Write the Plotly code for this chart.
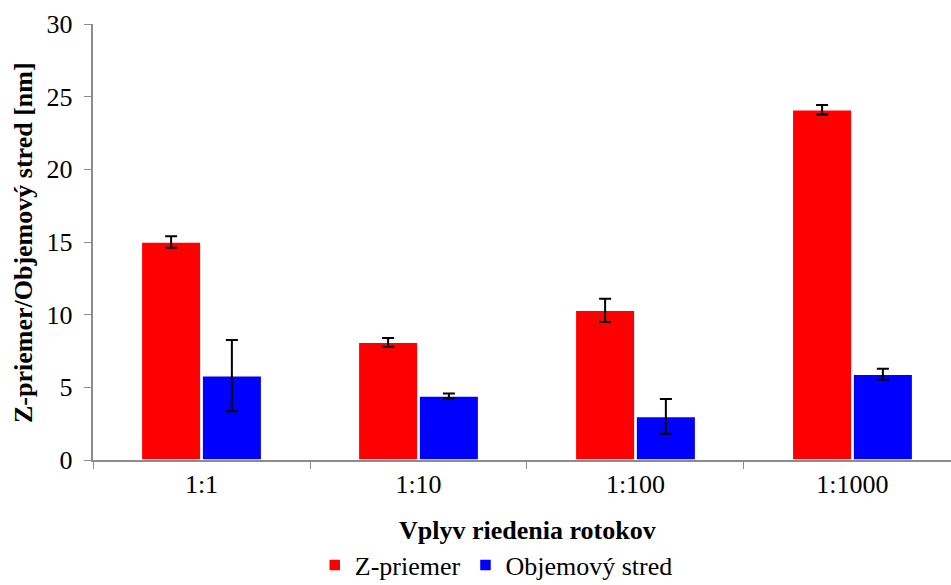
import plotly.graph_objects as go

categories = ["1:1", "1:10", "1:100", "1:1000"]
z_priemer = [15.0, 8.1, 10.3, 24.1]
z_err = [0.4, 0.3, 0.8, 0.32]
objemovy = [5.8, 4.4, 3.0, 5.9]
obj_err = [2.45, 0.17, 1.2, 0.38]

x_title = "Vplyv riedenia rotokov"
y_title = "Z-priemer/Objemový stred [nm]"

font_family = "Liberation Serif, Times New Roman, serif"
FS = 26

fig = go.Figure()
fig.add_trace(go.Bar(
    x=categories, y=z_priemer, name="Z-priemer",
    marker=dict(color="#ff0000", line=dict(color="white", width=1.5)),
    error_y=dict(type="data", array=z_err, color="black", thickness=2, width=6),
))
fig.add_trace(go.Bar(
    x=categories, y=objemovy, name="Objemový stred",
    marker=dict(color="#0000ff", line=dict(color="white", width=1.5)),
    error_y=dict(type="data", array=obj_err, color="black", thickness=2, width=6),
))

fig.update_layout(
    width=951, height=585,
    margin=dict(l=93, r=0, t=24, b=125, autoexpand=False),
    paper_bgcolor="white", plot_bgcolor="white",
    font=dict(family=font_family, size=FS, color="black"),
    barmode="group", bargap=0.44, bargroupgap=0.02,
    showlegend=True,
    legend=dict(orientation="h", x=0.47, xanchor="center", y=-0.241, yanchor="middle",
                font=dict(size=FS, family=font_family), itemwidth=30,
                traceorder="normal", borderwidth=0),
    annotations=[
        dict(text="<b>" + x_title + "</b>", xref="paper", yref="paper",
             x=0.506, y=-0.1606, xanchor="center", yanchor="middle",
             showarrow=False, font=dict(size=FS)),
        dict(text="<b>" + y_title + "</b>", xref="paper", yref="paper",
             x=-0.0816, y=0.5, xanchor="center", yanchor="middle", textangle=-90,
             showarrow=False, font=dict(size=FS)),
    ],
)
fig.update_xaxes(
    range=[-0.5, 3.454], tickson="boundaries", ticks="outside", ticklen=7,
    tickcolor="#8c8c8c", showline=True, linecolor="#8c8c8c", linewidth=1.5,
    showgrid=False, automargin=False, tickfont=dict(size=FS),
)
fig.update_yaxes(
    range=[0, 30], dtick=5, ticks="outside", ticklen=7, tickcolor="#8c8c8c",
    showline=True, linecolor="#8c8c8c", linewidth=1.5, showgrid=False, zeroline=False,
    automargin=False, tickfont=dict(size=FS), ticksuffix=" ",
)

fig.write_html("out.html")
